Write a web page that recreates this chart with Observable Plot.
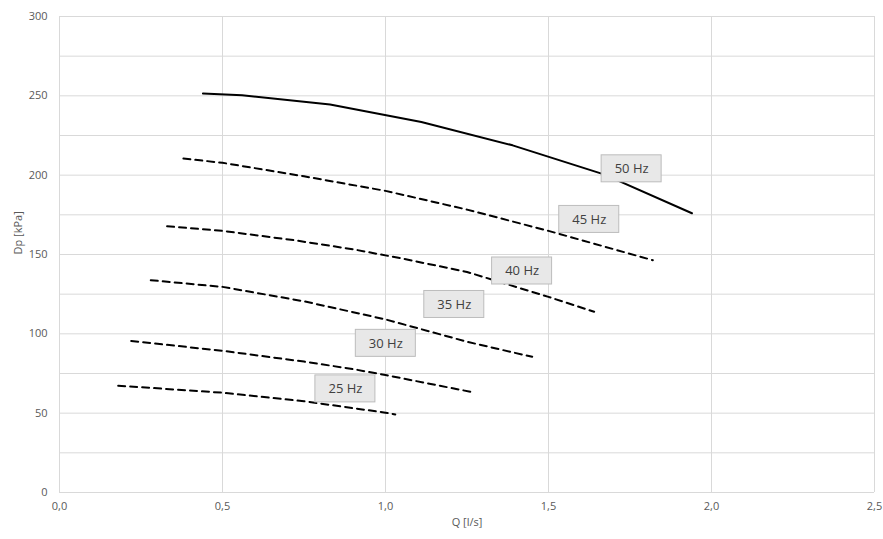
<!DOCTYPE html>
<html>
<head>
<meta charset="utf-8">
<script src="https://cdn.jsdelivr.net/npm/d3@7"></script>
<script src="https://cdn.jsdelivr.net/npm/@observablehq/plot@0.6"></script>
<style>
  html, body { margin: 0; padding: 0; background: #fff; }
</style>
</head>
<body>
<div id="chart"></div>
<script>
// Frequency curves: flow Q [l/s] and pressure Dp [kPa]
const freqs = ["50 Hz", "45 Hz", "40 Hz", "35 Hz", "30 Hz", "25 Hz"];

const q50  = [0.44, 0.56, 0.83, 1.11, 1.39, 1.67, 1.94];
const dp50 = [251.5, 250.3, 244.5, 233.5, 218.8, 200.5, 176.0];

const q45  = [0.38, 0.50, 0.75, 1.00, 1.25, 1.50, 1.82];
const dp45 = [210.5, 207.8, 199.3, 190.1, 178.3, 164.9, 146.4];

const q40  = [0.33, 0.50, 0.72, 0.90, 1.05, 1.25, 1.50, 1.64];
const dp40 = [167.8, 164.9, 159.0, 153.3, 147.5, 139.0, 123.3, 113.9];

const q35  = [0.28, 0.50, 0.75, 1.00, 1.25, 1.45];
const dp35 = [133.8, 129.6, 120.5, 109.1, 95.0, 85.5];

const q30  = [0.22, 0.50, 0.75, 0.90, 1.00, 1.27];
const dp30 = [95.5, 89.3, 82.5, 77.8, 74.0, 63.1];

const q25  = [0.18, 0.50, 0.75, 1.00, 1.03];
const dp25 = [67.3, 62.9, 57.5, 50.3, 49.2];

// Label box anchor positions (data coordinates)
const labelQ  = [1.755, 1.625, 1.419, 1.211, 1.001, 0.877];
const labelDp = [204.0, 172.1, 139.6, 118.5, 94.0, 65.3];

// Axis ticks
const xTicks = [0, 0.5, 1.0, 1.5, 2.0, 2.5];
const yTicks = [0, 50, 100, 150, 200, 250, 300];
const yGrid  = [0, 25, 50, 75, 100, 125, 150, 175, 200, 225, 250, 275, 300];

const series = [
  [q50, dp50], [q45, dp45], [q40, dp40], [q35, dp35], [q30, dp30], [q25, dp25]
];
const rows = series.flatMap(([qs, dps], k) =>
  qs.map((q, i) => ({freq: freqs[k], q, dp: dps[i]})));
const labels = freqs.map((f, i) => ({freq: f, q: labelQ[i], dp: labelDp[i]}));

const fmt = d => d.toFixed(1).replace(".", ",");

const chart = Plot.plot({
  width: 883,
  height: 539,
  marginLeft: 59,
  marginRight: 9,
  marginTop: 16,
  marginBottom: 47,
  style: {fontFamily: "'Open Sans', sans-serif", fontSize: "11px", color: "#595959", background: "#fff"},
  x: {domain: [0, 2.5]},
  y: {domain: [0, 300]},
  marks: [
    Plot.ruleY(yGrid, {stroke: "#d9d9d9", strokeWidth: 1}),
    Plot.ruleX(xTicks, {stroke: "#d9d9d9", strokeWidth: 1}),
    Plot.axisX({ticks: xTicks, tickFormat: fmt, tickSize: 0, tickPadding: 10, label: null, fill: "#595959"}),
    Plot.axisY({ticks: yTicks, tickSize: 0, tickPadding: 12, label: null, fill: "#595959"}),
    Plot.text(["Q [l/s]"], {frameAnchor: "bottom", dy: 33, fill: "#595959", fontSize: 11}),
    Plot.text(["Dp [kPa]"], {frameAnchor: "left", dx: -41, rotate: -90, fill: "#595959", fontSize: 11}),
    Plot.line(rows.filter(d => d.freq === "50 Hz"), {x: "q", y: "dp", stroke: "#000", strokeWidth: 2}),
    Plot.line(rows.filter(d => d.freq !== "50 Hz"), {x: "q", y: "dp", z: "freq", stroke: "#000", strokeWidth: 2, strokeDasharray: "7,5"}),
    Plot.rect(labels, {x1: "q", x2: "q", y1: "dp", y2: "dp",
      insetLeft: -30, insetRight: -30, insetTop: -13.5, insetBottom: -13.5,
      fill: "#e8e8e8", stroke: "#bcbcbc", strokeWidth: 1}),
    Plot.text(labels, {x: "q", y: "dp", text: "freq", fontSize: 13, fill: "#404040"})
  ]
});
document.getElementById("chart").appendChild(chart);
</script>
</body>
</html>
